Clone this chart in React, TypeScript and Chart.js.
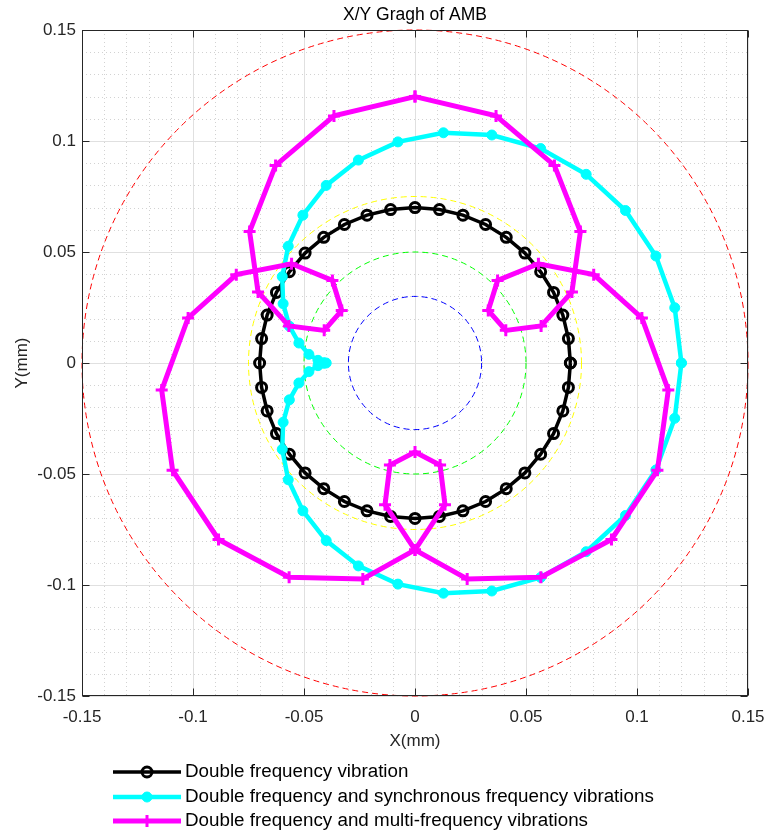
import React, { useEffect, useRef } from "react";
import { Chart, registerables } from "chart.js";

Chart.register(...registerables);

// ---- data ----
const blackX = [0.07, 0.0691, 0.0666, 0.0624, 0.0566, 0.0495, 0.0411, 0.0318, 0.0216, 0.011, 0, -0.011, -0.0216, -0.0318, -0.0411, -0.0495, -0.0566, -0.0624, -0.0666, -0.0691, -0.07, -0.0691, -0.0666, -0.0624, -0.0566, -0.0495, -0.0411, -0.0318, -0.0216, -0.011, 0, 0.011, 0.0216, 0.0318, 0.0411, 0.0495, 0.0566, 0.0624, 0.0666, 0.0691, 0.07];
const blackY = [0, 0.011, 0.0216, 0.0318, 0.0411, 0.0495, 0.0566, 0.0624, 0.0666, 0.0691, 0.07, 0.0691, 0.0666, 0.0624, 0.0566, 0.0495, 0.0411, 0.0318, 0.0216, 0.011, 0, -0.011, -0.0216, -0.0318, -0.0411, -0.0495, -0.0566, -0.0624, -0.0666, -0.0691, -0.07, -0.0691, -0.0666, -0.0624, -0.0566, -0.0495, -0.0411, -0.0318, -0.0216, -0.011, 0];

const cyanX = [0.12, 0.117, 0.1085, 0.0948, 0.0771, 0.0566, 0.0346, 0.0128, -0.0077, -0.0255, -0.04, -0.0505, -0.0571, -0.0598, -0.0594, -0.0566, -0.0523, -0.0478, -0.0437, -0.041, -0.04, -0.041, -0.0437, -0.0478, -0.0523, -0.0566, -0.0594, -0.0598, -0.0571, -0.0505, -0.04, -0.0255, -0.0077, 0.0128, 0.0346, 0.0566, 0.0771, 0.0948, 0.1085, 0.117, 0.12];
const cyanY = [0, 0.0249, 0.0482, 0.0687, 0.085, 0.0966, 0.1027, 0.1037, 0.0996, 0.0914, 0.08, 0.0666, 0.0526, 0.0389, 0.0267, 0.0166, 0.009, 0.0039, 0.0012, 0.0001, 0, -0.0001, -0.0012, -0.0039, -0.009, -0.0166, -0.0267, -0.0389, -0.0526, -0.0666, -0.08, -0.0914, -0.0996, -0.1037, -0.1027, -0.0966, -0.085, -0.0687, -0.0482, -0.0249, 0];

const magentaX = [0, -0.0365, -0.0628, -0.0745, -0.0707, -0.0568, -0.0409, -0.033, -0.0372, -0.0556, -0.0805, -0.1022, -0.1141, -0.1092, -0.0885, -0.0567, -0.0235, 0, 0.0135, 0.0113, 0, -0.0113, -0.0135, 0, 0.0235, 0.0567, 0.0885, 0.1092, 0.1141, 0.1022, 0.0805, 0.0556, 0.0372, 0.033, 0.0409, 0.0568, 0.0707, 0.0745, 0.0628, 0.0365, 0];
const magentaY = [0.12, 0.1113, 0.089, 0.0592, 0.032, 0.0167, 0.0147, 0.0237, 0.0372, 0.0447, 0.0398, 0.0203, -0.0122, -0.0483, -0.0795, -0.0965, -0.0973, -0.0842, -0.0638, -0.046, -0.0401, -0.046, -0.0638, -0.0842, -0.0973, -0.0965, -0.0795, -0.0483, -0.0122, 0.0203, 0.0398, 0.0447, 0.0372, 0.0237, 0.0147, 0.0167, 0.032, 0.0592, 0.089, 0.1113, 0.12];

const seriesLabels = [
  "Double frequency vibration",
  "Double frequency and synchronous frequency vibrations",
  "Double frequency and multi-frequency vibrations",
];

const tickValues = [-0.15, -0.1, -0.05, 0, 0.05, 0.1, 0.15];
const tickLabels = ["-0.15", "-0.1", "-0.05", "0", "0.05", "0.1", "0.15"];

const guideRadii = [0.15, 0.075, 0.05, 0.03];
const guideColors = ["#ff0000", "#ffff00", "#00ff00", "#0000ff"];

const chartTitle = "X/Y Gragh of AMB";

// ---- styles ----
const FONT = '"Liberation Sans", Arial, sans-serif';
const TEXT = "#262626";

const toPts = (xs: number[], ys: number[]) => xs.map((x, i) => ({ x, y: ys[i] }));

function drawMarker(ctx: CanvasRenderingContext2D, ds: any, x: number, y: number) {
  const r = ds.pointRadius;
  ctx.save();
  ctx.lineWidth = ds.pointBorderWidth;
  ctx.strokeStyle = ds.pointBorderColor;
  ctx.fillStyle = ds.pointBackgroundColor;
  ctx.setLineDash([]);
  if (ds.pointStyle === "cross") {
    ctx.beginPath();
    ctx.moveTo(x - r, y);
    ctx.lineTo(x + r, y);
    ctx.moveTo(x, y - r);
    ctx.lineTo(x, y + r);
    ctx.stroke();
  } else {
    ctx.beginPath();
    ctx.arc(x, y, r, 0, Math.PI * 2);
    ctx.fill();
    ctx.stroke();
  }
  ctx.restore();
}

const decorPlugin = {
  id: "decor",
  beforeDatasetsDraw(chart: any) {
    const { ctx, chartArea: a, scales } = chart;
    const sx = scales.x;
    const sy = scales.y;
    ctx.save();
    // minor grid (dotted)
    ctx.lineWidth = 1;
    ctx.strokeStyle = "#d2d2d2";
    ctx.setLineDash([1, 3]);
    for (let i = -14; i <= 14; i++) {
      if (i % 5 === 0) continue;
      const v = i / 100;
      const px = Math.round(sx.getPixelForValue(v)) + 0.5;
      ctx.beginPath();
      ctx.moveTo(px, a.top);
      ctx.lineTo(px, a.bottom);
      ctx.stroke();
      const py = Math.round(sy.getPixelForValue(v)) + 0.5;
      ctx.beginPath();
      ctx.moveTo(a.left, py);
      ctx.lineTo(a.right, py);
      ctx.stroke();
    }
    // major grid
    ctx.setLineDash([]);
    ctx.strokeStyle = "#e0e0e0";
    tickValues.forEach((v) => {
      const px = Math.round(sx.getPixelForValue(v)) + 0.5;
      ctx.beginPath();
      ctx.moveTo(px, a.top);
      ctx.lineTo(px, a.bottom);
      ctx.stroke();
      const py = Math.round(sy.getPixelForValue(v)) + 0.5;
      ctx.beginPath();
      ctx.moveTo(a.left, py);
      ctx.lineTo(a.right, py);
      ctx.stroke();
    });
    // guide circles
    const cx = sx.getPixelForValue(0);
    const cy = sy.getPixelForValue(0);
    guideRadii.forEach((r, i) => {
      const rp = sx.getPixelForValue(r) - cx;
      ctx.beginPath();
      ctx.setLineDash([6, 4]);
      ctx.strokeStyle = guideColors[i];
      ctx.lineWidth = 1;
      ctx.arc(cx, cy, rp, 0, Math.PI * 2);
      ctx.stroke();
    });
    ctx.restore();
  },
  afterDatasetsDraw(chart: any) {
    const { ctx, chartArea: a, scales } = chart;
    const sx = scales.x;
    const sy = scales.y;
    ctx.save();
    ctx.setLineDash([]);
    ctx.strokeStyle = TEXT;
    ctx.lineWidth = 1;
    const L = Math.round(a.left) + 0.5;
    const R = Math.round(a.right) - 0.5;
    const T = Math.round(a.top) + 0.5;
    const B = Math.round(a.bottom) - 0.5;
    ctx.strokeRect(L, T, R - L, B - T);
    const tl = 7;
    tickValues.forEach((v) => {
      const px = Math.round(sx.getPixelForValue(v)) + 0.5;
      ctx.beginPath();
      ctx.moveTo(px, B);
      ctx.lineTo(px, B - tl);
      ctx.moveTo(px, T);
      ctx.lineTo(px, T + tl);
      ctx.stroke();
      const py = Math.round(sy.getPixelForValue(v)) + 0.5;
      ctx.beginPath();
      ctx.moveTo(L, py);
      ctx.lineTo(L + tl, py);
      ctx.moveTo(R, py);
      ctx.lineTo(R - tl, py);
      ctx.stroke();
    });
    ctx.restore();
  },
  afterDraw(chart: any) {
    const { ctx, chartArea: a } = chart;
    ctx.save();
    // title
    ctx.fillStyle = "#000";
    ctx.font = `17.5px ${FONT}`;
    ctx.textAlign = "center";
    ctx.textBaseline = "middle";
    ctx.fillText(chartTitle, (a.left + a.right) / 2, 15);
    // legend
    const rows = [a.bottom + 76, a.bottom + 101, a.bottom + 125];
    const x1 = 113;
    const x2 = 181;
    chart.data.datasets.forEach((ds: any, i: number) => {
      const y = rows[i];
      ctx.save();
      ctx.strokeStyle = ds.borderColor;
      ctx.lineWidth = ds.borderWidth;
      ctx.setLineDash([]);
      ctx.beginPath();
      ctx.moveTo(x1, y);
      ctx.lineTo(x2, y);
      ctx.stroke();
      ctx.restore();
      drawMarker(ctx, ds, (x1 + x2) / 2, y);
      ctx.fillStyle = "#000";
      ctx.font = `18.8px ${FONT}`;
      ctx.textAlign = "left";
      ctx.textBaseline = "middle";
      ctx.fillText(seriesLabels[i], 185, y);
    });
    ctx.restore();
  },
};

export default function App() {
  const ref = useRef<HTMLCanvasElement>(null);

  useEffect(() => {
    const canvas = ref.current;
    if (!canvas) return;
    const tickFont = { family: FONT, size: 17 };
    const labelFor = (v: number) => {
      const i = tickValues.findIndex((t) => Math.abs(t - v) < 1e-9);
      return i >= 0 ? tickLabels[i] : "";
    };
    const chart = new Chart(canvas, {
      type: "scatter",
      data: {
        datasets: [
          {
            label: seriesLabels[0],
            data: toPts(blackX, blackY),
            showLine: true,
            borderColor: "#000000",
            borderWidth: 3.5,
            pointStyle: "circle",
            pointRadius: 5,
            pointBorderWidth: 3,
            pointBorderColor: "#000000",
            pointBackgroundColor: "rgba(0,0,0,0)",
            order: 3,
          },
          {
            label: seriesLabels[1],
            data: toPts(cyanX, cyanY),
            showLine: true,
            borderColor: "#00ffff",
            borderWidth: 4.5,
            pointStyle: "circle",
            pointRadius: 5,
            pointBorderWidth: 1,
            pointBorderColor: "#00ffff",
            pointBackgroundColor: "#00ffff",
            order: 2,
          },
          {
            label: seriesLabels[2],
            data: toPts(magentaX, magentaY),
            showLine: true,
            borderColor: "#ff00ff",
            borderWidth: 5,
            pointStyle: "cross",
            pointRadius: 6,
            pointBorderWidth: 3,
            pointBorderColor: "#ff00ff",
            pointBackgroundColor: "#ff00ff",
            order: 1,
          },
        ] as any,
      },
      options: {
        responsive: false,
        animation: false,
        devicePixelRatio: 1,
        events: [],
        layout: { padding: { top: 30, right: 19, bottom: 78, left: 0 } },
        plugins: {
          legend: { display: false },
          tooltip: { enabled: false },
          title: { display: false },
        },
        scales: {
          x: {
            type: "linear",
            min: -0.15,
            max: 0.15,
            grid: { display: false, drawTicks: false },
            border: { display: false },
            afterBuildTicks: (s: any) => {
              s.ticks = tickValues.map((v) => ({ value: v }));
            },
            afterFit: (s: any) => {
              s.height = 60;
              s.paddingLeft = 0;
              s.paddingRight = 0;
            },
            ticks: {
              autoSkip: false,
              maxRotation: 0,
              padding: 11,
              color: TEXT,
              font: tickFont,
              callback: (v: any) => labelFor(Number(v)),
            },
            title: {
              display: true,
              text: "X(mm)",
              color: TEXT,
              font: tickFont,
              padding: { top: 4, bottom: 4 },
            },
          },
          y: {
            type: "linear",
            min: -0.15,
            max: 0.15,
            grid: { display: false, drawTicks: false },
            border: { display: false },
            afterBuildTicks: (s: any) => {
              s.ticks = tickValues.map((v) => ({ value: v }));
            },
            afterFit: (s: any) => {
              s.width = 82;
              s.paddingTop = 0;
              s.paddingBottom = 0;
            },
            ticks: {
              autoSkip: false,
              padding: 6,
              color: TEXT,
              font: tickFont,
              callback: (v: any) => labelFor(Number(v)),
            },
            title: {
              display: true,
              text: "Y(mm)",
              color: TEXT,
              font: tickFont,
              padding: { top: 12, bottom: 4 },
            },
          },
        },
      } as any,
      plugins: [decorPlugin],
    });
    return () => chart.destroy();
  }, []);

  return (
    <div style={{ position: "fixed", left: 0, top: 0, width: 767, height: 834, background: "#ffffff" }}>
      <canvas ref={ref} width={767} height={834} style={{ display: "block", width: 767, height: 834 }} />
    </div>
  );
}
